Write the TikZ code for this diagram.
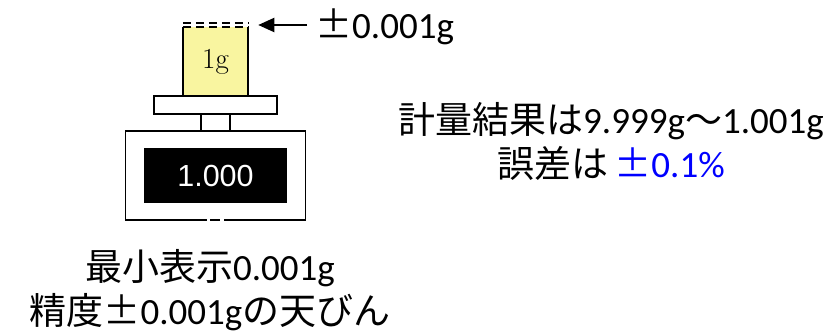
\documentclass[tikz,border=0pt]{standalone}
\usepackage{fontspec}
\usepackage{xcolor}
\usetikzlibrary{arrows.meta,positioning,calc}
\newfontfamily\jpfont{Noto Sans CJK JP}
\newfontfamily\jpwide[RawFeature=+fwid]{Noto Sans CJK JP}
\newfontfamily\numfont{Carlito}
\newfontfamily\dispfont{Liberation Sans}
\newcommand{\ja}[1]{{\jpfont #1}}
\newcommand{\zpm}{\makebox[1em]{\jpwide ±}}
\definecolor{weightyellow}{HTML}{F9F5A0}
\tikzset{
  part/.style={draw, line width=1.8pt, fill=white, inner sep=0pt, outer sep=0pt},
  weightbox/.style={fill=weightyellow, inner sep=0pt, outer sep=0pt, minimum width=65.5pt, minimum height=69pt, font=\fontsize{29}{31}\selectfont},
  display/.style={fill=black, text=white, inner sep=0pt, minimum width=143pt, minimum height=54.5pt, font=\dispfont\fontsize{30.5}{32}\selectfont},
  outline/.style={line width=1.8pt, line join=miter},
  topdash/.style={line width=1.3pt, dash pattern=on 8pt off 5pt},
  tolarrow/.style={line width=2pt, -{Triangle[length=16pt,width=14pt]}},
  caption/.style={align=center, inner sep=0pt, font=\numfont\fontsize{37}{44}\selectfont},
  result/.style={align=center, inner sep=0pt, font=\numfont\fontsize{37}{44}\selectfont}
}
\begin{document}
\begin{tikzpicture}[x=1pt, y=-1pt]
  \useasboundingbox (0,0) rectangle (839,332);
  % balance, stacked from the weight down
  \node[weightbox] (weight) at (215.5,61.5) {1g};
  \node[part, minimum width=123pt, minimum height=18pt, below=0pt of weight] (plate) {};
  \node[part, minimum width=29pt, minimum height=17.3pt, below=0pt of plate] (stem) {};
  \node[part, minimum width=180pt, minimum height=88.7pt, below=0pt of stem] (base) {};
  \node[display] (disp) at (base) {1.000};
  \draw[outline] (weight.north west) -- (weight.south west) -- (weight.south east) -- (weight.north east);
  \draw[topdash] (weight.north west) -- (weight.north east);
  \draw[topdash] ([yshift=4pt]weight.north west) -- ([yshift=4pt]weight.north east);
  % small break in the bottom edge
  \draw[white, line width=2.6pt] ([xshift=-8.7pt]base.south) -- ([xshift=-5.3pt]base.south);
  \draw[white, line width=2.6pt] ([xshift=4.7pt]base.south) -- ([xshift=8pt]base.south);
  % tolerance mark
  \node[caption, anchor=base west] (tol) at (315,38) {\zpm0.001g};
  \coordinate (tip) at ([shift={(10pt,2pt)}]weight.north east);
  \draw[tolarrow, shorten <=8pt] (tol.west |- tip) -- (tip);
  % texts (base anchor sits on the last line)
  \node[result, anchor=base] (res) at (611,177) {\ja{計量結果は}9.999g\ja{～}1.001g\\\ja{誤差は}\,\textcolor{blue}{\zpm0.1\%}};
  \node[caption, anchor=base] (spec) at (210,324) {\ja{最小表示}0.001g\\\ja{精度}\zpm0.001g\ja{の天びん}};
\end{tikzpicture}
\end{document}
